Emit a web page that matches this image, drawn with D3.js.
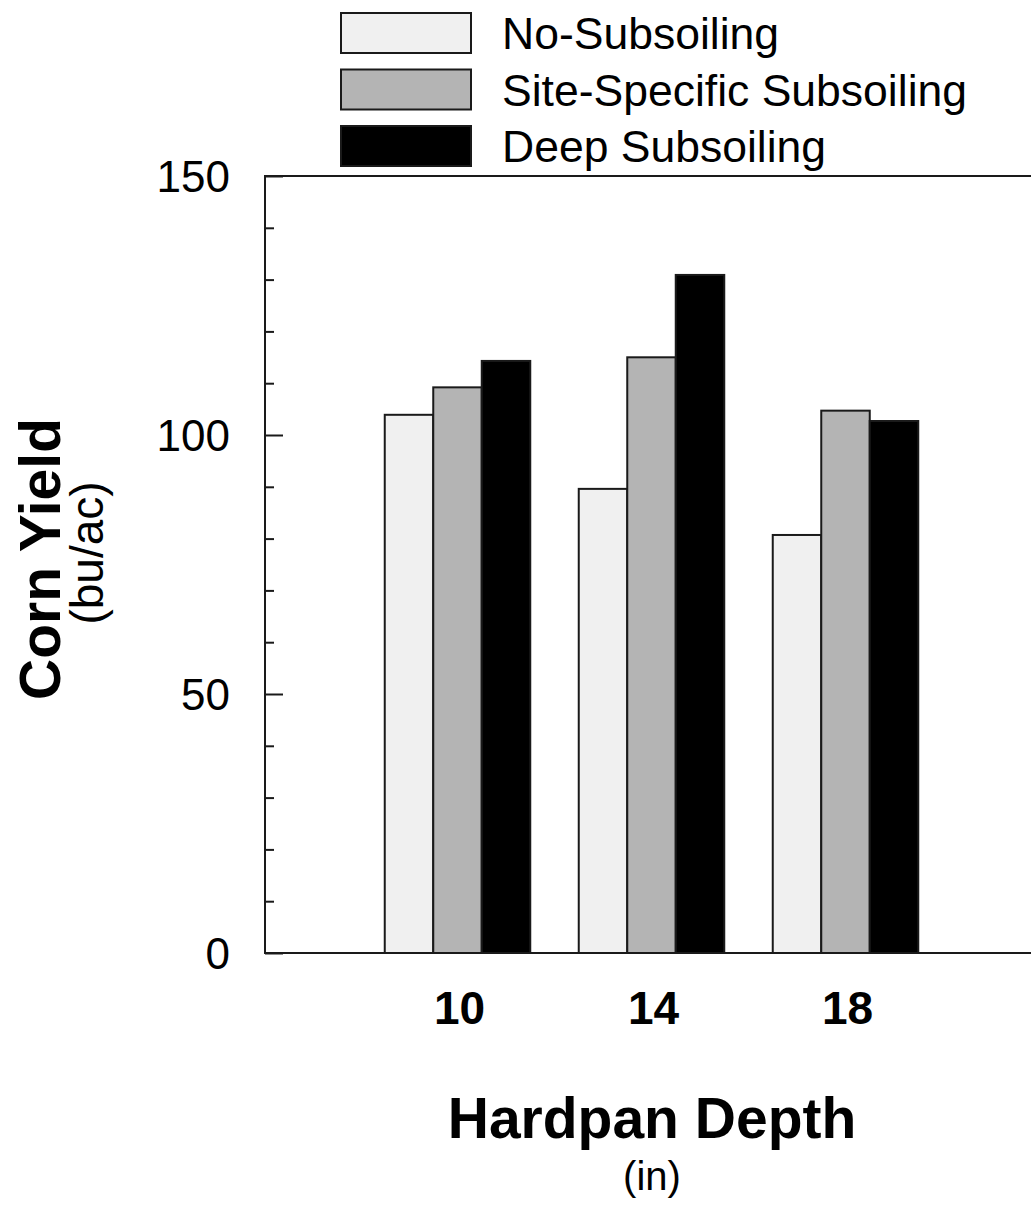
<!DOCTYPE html>
<html>
<head>
<meta charset="utf-8">
<script src="https://cdn.jsdelivr.net/npm/d3@7"></script>
<style>
  body { margin: 0; background: #fff; }
  svg { display: block; font-family: "Liberation Sans", Arial, sans-serif; }
</style>
</head>
<body>
<svg></svg>
<script>
// values
let depths = ['10', '14', '18'];
let seriesNames = ['No-Subsoiling', 'Site-Specific Subsoiling', 'Deep Subsoiling'];
let noSubsoiling = [103.9, 89.6, 80.7];
let siteSpecific = [109.2, 115.0, 104.7];
let deepSubsoiling = [114.3, 130.9, 102.7];
let majorTicks = [0, 50, 100, 150];
let minorTicks = [10, 20, 30, 40, 60, 70, 80, 90, 110, 120, 130, 140];
let fills = ['#f0f0f0', '#b4b4b4', '#000000'];

let width = 1031;
let height = 1205;
let plotLeft = 265;
let plotTop = 176;
let plotBottom = 953;

let svg = d3.select('svg')
  .attr('width', width)
  .attr('height', height)

let seriesValues = [noSubsoiling, siteSpecific, deepSubsoiling];

let xScale = d3.scaleBand()
  .domain(depths)
  .range([360.5, 942.5])
  .paddingInner(0.25)
  .paddingOuter(0.125)

let x1Scale = d3.scaleBand()
  .domain(seriesNames)
  .range([0, xScale.bandwidth()])

let yScale = d3.scaleLinear()
  .domain([0, 150])
  .range([plotBottom, plotTop])

// bars
let groups = svg.selectAll('g.group')
  .data(depths)
  .enter()
  .append('g')
  .attr('class', 'group')
  .attr('transform', (d) => `translate(${xScale(d)}, 0)`)

groups.selectAll('rect')
  .data((d, i) => seriesNames.map((name, j) => ({ name: name, value: seriesValues[j][i], idx: j })))
  .enter()
  .append('rect')
  .attr('x', (item) => x1Scale(item.name))
  .attr('width', x1Scale.bandwidth())
  .attr('y', (item) => yScale(item.value))
  .attr('height', (item) => plotBottom - yScale(item.value))
  .attr('fill', (item) => fills[item.idx])
  .attr('stroke', '#1a1a1a')
  .attr('stroke-width', 2)

// frame
svg.append('path')
  .attr('d', `M${width},${plotTop}H${plotLeft}V${plotBottom}H${width}`)
  .attr('fill', 'none')
  .attr('stroke', '#1a1a1a')
  .attr('stroke-width', 2)

// y axis: major ticks with labels, minor ticks without
let yAxis = d3.axisLeft(yScale)
  .tickValues(majorTicks)
  .tickSizeInner(-18)
  .tickSizeOuter(0)
  .tickPadding(35)

let yG = svg.append('g')
  .attr('transform', `translate(${plotLeft}, 0)`)
  .call(yAxis)
yG.select('.domain').remove()
yG.selectAll('line').attr('stroke', '#1a1a1a').attr('stroke-width', 2)
yG.selectAll('text')
  .attr('font-size', 44)
  .attr('font-family', '"Liberation Sans", Arial, sans-serif')
  .attr('fill', '#000')
  .attr('dy', '0.36em')

let yMinor = d3.axisLeft(yScale)
  .tickValues(minorTicks)
  .tickSizeInner(-9)
  .tickSizeOuter(0)
  .tickFormat('')

let yMinorG = svg.append('g')
  .attr('transform', `translate(${plotLeft}, 0)`)
  .call(yMinor)
yMinorG.select('.domain').remove()
yMinorG.selectAll('line').attr('stroke', '#1a1a1a').attr('stroke-width', 2)

// x axis labels
let xAxis = d3.axisBottom(xScale)
  .tickSize(0)
  .tickPadding(38)

let xG = svg.append('g')
  .attr('transform', `translate(2, ${plotBottom})`)
  .call(xAxis)
xG.select('.domain').remove()
xG.selectAll('text')
  .attr('font-size', 46)
  .attr('font-weight', 'bold')
  .attr('font-family', '"Liberation Sans", Arial, sans-serif')
  .attr('fill', '#000')

// axis titles
svg.append('text')
  .attr('x', 652)
  .attr('y', 1138)
  .attr('text-anchor', 'middle')
  .attr('font-size', 57)
  .attr('font-weight', 'bold')
  .text('Hardpan Depth')

svg.append('text')
  .attr('x', 652)
  .attr('y', 1190)
  .attr('text-anchor', 'middle')
  .attr('font-size', 40)
  .text('(in)')

svg.append('text')
  .attr('transform', 'translate(60, 559) rotate(-90)')
  .attr('text-anchor', 'middle')
  .attr('font-size', 57)
  .attr('font-weight', 'bold')
  .text('Corn Yield')

svg.append('text')
  .attr('transform', 'translate(103, 553) rotate(-90)')
  .attr('text-anchor', 'middle')
  .attr('font-size', 46)
  .text('(bu/ac)')

// legend
let legend = svg.selectAll('g.legend')
  .data(seriesNames)
  .enter()
  .append('g')
  .attr('class', 'legend')
  .attr('transform', (d, i) => `translate(341, ${13 + i * 56.5})`)

legend.append('rect')
  .attr('width', 130)
  .attr('height', 40)
  .attr('fill', (d, i) => fills[i])
  .attr('stroke', '#1a1a1a')
  .attr('stroke-width', 2)

legend.append('text')
  .attr('x', 161)
  .attr('y', 20)
  .attr('dy', '0.36em')
  .attr('font-size', 44.5)
  .text((d) => d)
</script>
</body>
</html>
